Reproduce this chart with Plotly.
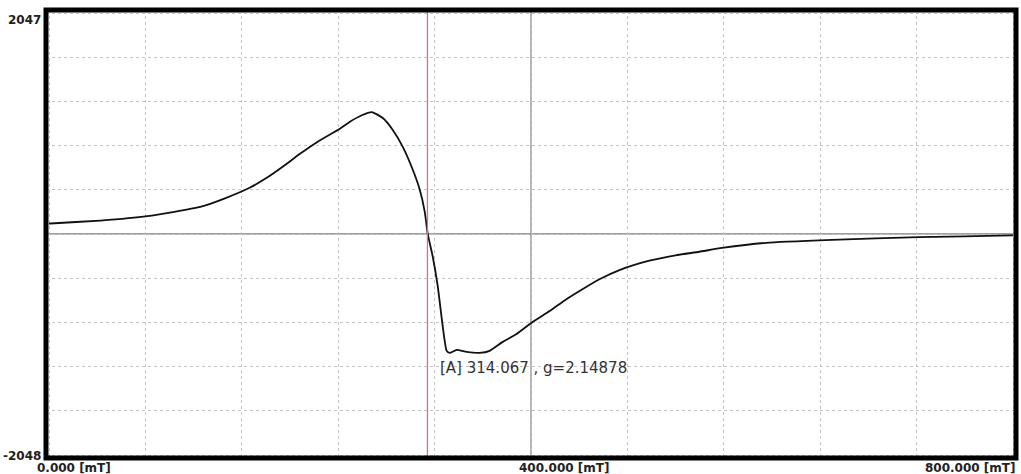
import plotly.graph_objects as go

# EPR spectrum: magnetic field (mT) vs signal (ADC units)
field_mT = [0.0, 1.2, 42.7, 81.6, 125.5, 146.0, 166.9, 180.0, 194.2, 208.0, 222.4,
            241.4, 249.7, 259.6, 267.9, 277.0, 285.3, 293.6, 301.9, 307.7, 311.8,
            314.3, 318.4, 322.6, 326.7, 330.0, 332.5, 338.3, 346.6, 357.4, 365.7,
            376.5, 388.1, 401.3, 415.4, 429.4, 442.7, 456.8, 473.4, 498.2, 520.0,
            539.6, 558.6, 595.1, 649.8, 721.8, 798.8, 800.0]
signal = [95, 97, 124, 165, 250, 330, 430, 515, 625, 740, 850,
          975, 1040, 1100, 1129, 1074, 964, 807, 595, 410, 207,
          0, -207, -484, -853, -1083, -1102, -1074, -1093, -1102, -1083,
          -1000, -927, -816, -715, -604, -512, -420, -335, -248, -198,
          -165, -130, -82, -55, -30, -14, -14]

# marker at the resonance field
marker_field = [314.067]
marker_g = [2.14878]

# axis extents and labels
y_limits = [-2048, 2047]
y_tick_labels = ["2047", "-2048"]
x_limits = [0, 800]
x_tick_values = [0, 400, 800]
x_tick_labels = ["0.000 [mT]", "400.000 [mT]", "800.000 [mT]"]

W, H = 1021, 474
L, R, T, B = 46, 5, 10, 16
plot_w = W - L - R
plot_h = H - T - B
inset = 3  # px between frame edge and data extent

x_scale = (plot_w - 2 * inset) / (x_limits[1] - x_limits[0])
y_scale = (plot_h - 2 * inset) / (y_limits[1] - y_limits[0])
x_range = [x_limits[0] - inset / x_scale, x_limits[1] + inset / x_scale]
y_range = [y_limits[0] - inset / y_scale, y_limits[1] + inset / y_scale]

n_div = 10
x_grid = [x_limits[0] + i * (x_limits[1] - x_limits[0]) / n_div for i in range(n_div + 1)]
y_grid = [y_limits[0] + i * (y_limits[1] - y_limits[0]) / n_div for i in range(n_div + 1)]

fig = go.Figure()
fig.add_trace(go.Scatter(
    x=field_mT, y=signal, mode="lines",
    line=dict(color="#111111", width=1.8, shape="spline", smoothing=0.5),
    hoverinfo="skip", showlegend=False,
))

shapes = [
    # centre cross-hair lines
    dict(type="line", xref="x", yref="y", x0=x_range[0], x1=x_range[1], y0=0, y1=0,
         line=dict(color="#555555", width=1), layer="below"),
    dict(type="line", xref="x", yref="y", x0=400, x1=400, y0=y_range[0], y1=y_range[1],
         line=dict(color="#666666", width=1), layer="below"),
    # resonance marker
    dict(type="line", xref="x", yref="y", x0=marker_field[0], x1=marker_field[0],
         y0=y_range[0], y1=y_range[1], line=dict(color="#cc7878", width=1.3)),
    # heavy frame
    dict(type="rect", xref="paper", yref="paper", x0=0, x1=1, y0=0, y1=1,
         line=dict(color="#000000", width=5)),
]

tick_font = dict(family="DejaVu Sans", size=12, color="#222222", weight="bold")
annotations = []
# y-axis end labels
for val, txt in zip(y_limits[::-1], y_tick_labels):
    annotations.append(dict(
        x=0, xref="paper", y=val, yref="y", text=txt, showarrow=False,
        xanchor="right", yanchor="middle", xshift=-3,
        yshift=-7 if val > 0 else -1, font=tick_font,
    ))
# x-axis labels
for val, txt in zip(x_tick_values, x_tick_labels):
    if val == x_limits[1]:
        annotations.append(dict(
            x=(923 - L) / plot_w, xref="paper", y=0, yref="paper", text=txt,
            showarrow=False, xanchor="left", yanchor="top", yshift=-1, font=tick_font,
        ))
    else:
        annotations.append(dict(
            x=val, xref="x", y=0, yref="paper", text=txt, showarrow=False,
            xanchor="left", yanchor="top", xshift=-14, yshift=-1, font=tick_font,
        ))
# resonance readout
annotations.append(dict(
    x=marker_field[0], xref="x", y=-1240, yref="y",
    text=f"[A] {marker_field[0]:.3f} , g={marker_g[0]:.5f}",
    showarrow=False, xanchor="left", yanchor="middle", xshift=11,
    font=dict(family="DejaVu Sans", size=15, color="#333333"),
))

grid_style = dict(showgrid=True, gridcolor="#c4c4c4", gridwidth=1, griddash="dot",
                  zeroline=False, showticklabels=False, ticks="", showline=False)

fig.update_layout(
    width=W, height=H,
    margin=dict(l=L, r=R, t=T, b=B, pad=0),
    paper_bgcolor="white", plot_bgcolor="white",
    xaxis=dict(range=x_range, tickmode="array", tickvals=x_grid, **grid_style),
    yaxis=dict(range=y_range, tickmode="array", tickvals=y_grid, **grid_style),
    shapes=shapes, annotations=annotations,
)

fig.write_html("out.html")
